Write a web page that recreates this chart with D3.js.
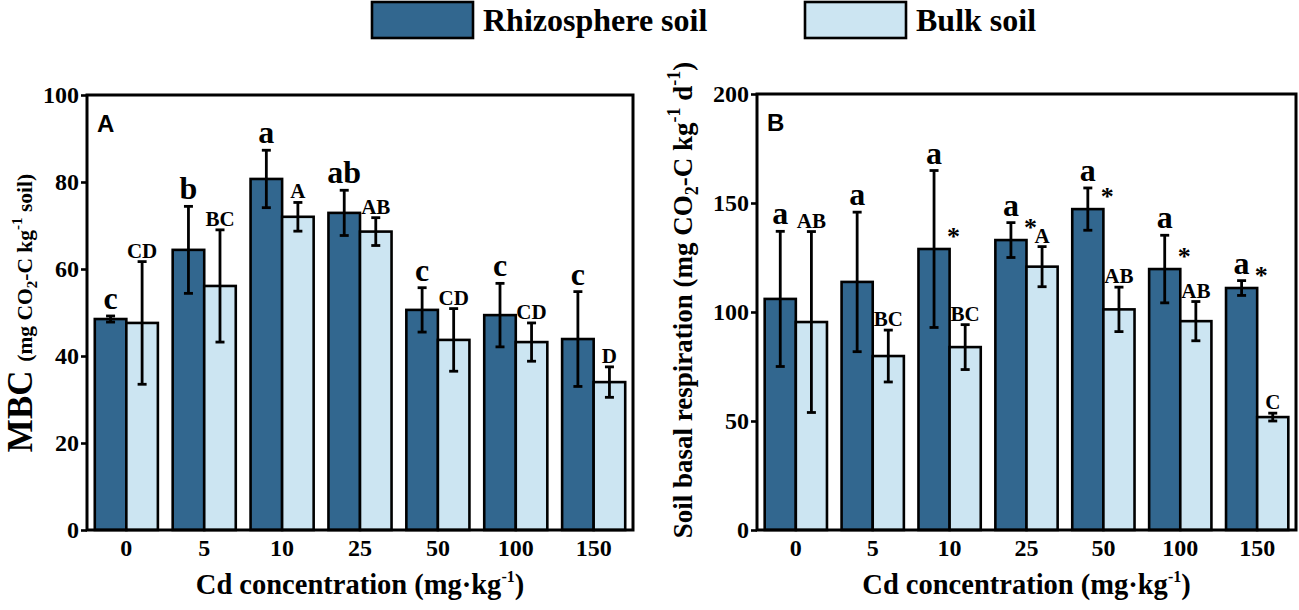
<!DOCTYPE html>
<html><head><meta charset="utf-8">
<script src="https://cdn.jsdelivr.net/npm/d3@7"></script>
<style>body{margin:0;background:#fff}svg{display:block}
svg text{font-family:"Liberation Serif","Times New Roman",Times,serif;font-weight:bold}
svg text.sans{font-family:"Liberation Sans",Arial,Helvetica,sans-serif}
</style>
</head><body>
<svg id="chart" width="1299" height="610"></svg>
<script>
const categories = ["0","5","10","25","50","100","150"];
const seriesNames = ["Rhizosphere soil","Bulk soil"];
const mbcRhizo = [48.5,64.4,80.7,72.9,50.6,49.4,43.9];
const mbcRhizoErr = [0.7,10,6.6,5.2,5.1,7.3,10.9];
const mbcBulk = [47.6,56.1,72,68.6,43.7,43.2,34];
const mbcBulkErr = [14.1,12.9,3.3,3.2,7.2,4.4,3.5];
const mbcRhizoLetters = ["c","b","a","ab","c","c","c"];
const mbcBulkLetters = ["CD","BC","A","AB","CD","CD","D"];
const mbcStars = [false,false,false,false,false,false,false];
const mbcTicks = [0,20,40,60,80,100];
const resRhizo = [106,113.8,128.9,133,147.2,119.7,111];
const resRhizoErr = [31,32,36,8,9.7,15.5,3.4];
const resBulk = [95.4,79.8,83.9,120.8,101.2,95.8,51.8];
const resBulkErr = [41.5,11.9,10.3,9.2,10.2,9,1.8];
const resRhizoLetters = ["a","a","a","a","a","a","a"];
const resBulkLetters = ["AB","BC","BC","A","AB","AB","C"];
const resStars = [false,false,true,true,true,true,true];
const resTicks = [0,50,100,150,200];

const DARK = "#32678f", LIGHT = "#cce5f2";
const svg = d3.select("#chart");

function panel(cfg){
  const {left,right,top,bottom,ymax,ticks,rh,rhE,bu,buE,rhL,buL,stars,tag} = cfg;
  const g = svg.append("g");
  const x0 = d3.scaleBand().domain(categories).range([left,right]).paddingInner(0.19).paddingOuter(0.1);
  const x1 = d3.scaleBand().domain([0,1]).range([0,x0.bandwidth()]);
  const y = d3.scaleLinear().domain([0,ymax]).range([bottom,top]);
  const rows = categories.map((c,i)=>({c,i,vals:[
    {s:0,v:rh[i],e:rhE[i],l:rhL[i]},{s:1,v:bu[i],e:buE[i],l:buL[i]}], star:stars[i]}));
  const grp = g.selectAll("g.grp").data(rows).join("g").attr("transform",d=>`translate(${x0(d.c)},0)`);
  grp.selectAll("rect").data(d=>d.vals).join("rect")
    .attr("x",d=>x1(d.s)).attr("width",x1.bandwidth())
    .attr("y",d=>y(d.v)).attr("height",d=>y(0)-y(d.v))
    .attr("fill",d=>d.s===0?DARK:LIGHT).attr("stroke","#000").attr("stroke-width",2.6);
  const eb = grp.selectAll("g.eb").data(d=>d.vals).join("g")
    .attr("stroke","#000").attr("stroke-width",2.8);
  eb.append("line").attr("x1",d=>x1(d.s)+x1.bandwidth()/2).attr("x2",d=>x1(d.s)+x1.bandwidth()/2)
    .attr("y1",d=>y(d.v+d.e)).attr("y2",d=>y(d.v-d.e));
  ["+","-"].forEach(sg=>{
    eb.append("line").attr("x1",d=>x1(d.s)+x1.bandwidth()/2-4.5).attr("x2",d=>x1(d.s)+x1.bandwidth()/2+4.5)
      .attr("y1",d=>y(sg==="+"?d.v+d.e:d.v-d.e)).attr("y2",d=>y(sg==="+"?d.v+d.e:d.v-d.e));
  });
  grp.selectAll("text.lab").data(d=>d.vals).join("text").attr("class","lab")
    .attr("x",d=>x1(d.s)+x1.bandwidth()/2)
    .attr("y",d=>y(d.v+d.e)-(d.s===0?7:4))
    .attr("text-anchor","middle")
    .style("font-size",d=>(d.s===0?32:21)+"px").text(d=>d.l);
  grp.filter(d=>d.star).append("text")
    .attr("x",x1(1)+4).attr("y",d=>y(d.vals[0].v)-4)
    .attr("text-anchor","middle").style("font-size","26px").text("*");
  const ya = g.append("g").attr("transform",`translate(${left},0)`)
    .call(d3.axisLeft(y).tickValues(ticks).tickSize(6).tickPadding(2));
  ya.select(".domain").remove();
  ya.selectAll("line").attr("stroke-width",2.6);
  ya.selectAll("text").style("font-size","24px").attr("fill","#000");
  const xa = g.append("g").attr("transform",`translate(0,${bottom})`)
    .call(d3.axisBottom(x0).tickSize(0).tickPadding(9));
  xa.select(".domain").remove();
  xa.selectAll("text").style("font-size","24px").attr("fill","#000");
  ya.attr("font-family",null); xa.attr("font-family",null);
  g.append("rect").attr("x",left).attr("y",top).attr("width",right-left).attr("height",bottom-top)
    .attr("fill","none").attr("stroke","#000").attr("stroke-width",3);
  g.append("text").attr("class","sans").attr("x",left+10).attr("y",top+37)
    .style("font-size","24px").text(tag);
  const xt = g.append("text").attr("x",(left+right)/2).attr("y",594).attr("text-anchor","middle")
    .style("font-size","28.5px");
  xt.append("tspan").text("Cd concentration (mg·kg");
  xt.append("tspan").style("font-size","16px").attr("dy",-12).text("-1");
  xt.append("tspan").attr("dy",12).text(")");
  return g;
}

panel({left:87,right:633,top:95,bottom:530,ymax:100,ticks:mbcTicks,rh:mbcRhizo,rhE:mbcRhizoErr,bu:mbcBulk,buE:mbcBulkErr,rhL:mbcRhizoLetters,buL:mbcBulkLetters,stars:mbcStars,tag:"A"});
panel({left:757,right:1296,top:94,bottom:530,ymax:200,ticks:resTicks,rh:resRhizo,rhE:resRhizoErr,bu:resBulk,buE:resBulkErr,rhL:resRhizoLetters,buL:resBulkLetters,stars:resStars,tag:"B"});

const ytA = svg.append("text").attr("transform","translate(32,313) rotate(-90)").attr("text-anchor","middle")
  .style("font-size","21.5px");
ytA.append("tspan").style("font-size","35px").text("MBC ");
ytA.append("tspan").text("(mg CO");
ytA.append("tspan").style("font-size","15px").attr("dy",5).text("2");
ytA.append("tspan").attr("dy",-5).text("-C kg");
ytA.append("tspan").style("font-size","15px").attr("dy",-10).text("-1");
ytA.append("tspan").attr("dy",10).text(" soil)");

const ytB = svg.append("text").attr("transform","translate(692,300) rotate(-90)").attr("text-anchor","middle")
  .style("font-size","27px");
ytB.append("tspan").text("Soil basal respiration (mg CO");
ytB.append("tspan").style("font-size","18px").attr("dy",6).text("2");
ytB.append("tspan").attr("dy",-6).text("-C kg");
ytB.append("tspan").style("font-size","18px").attr("dy",-12).text("-1");
ytB.append("tspan").attr("dy",12).text(" d");
ytB.append("tspan").style("font-size","18px").attr("dy",-12).text("-1");
ytB.append("tspan").attr("dy",12).text(")");

const leg = svg.append("g");
const legX = [372,805];
seriesNames.forEach((n,i)=>{
  leg.append("rect").attr("x",legX[i]).attr("y",2).attr("width",101).attr("height",36)
    .attr("fill",i===0?DARK:LIGHT).attr("stroke","#000").attr("stroke-width",2.6);
  leg.append("text").attr("x",legX[i]+111).attr("y",31).style("font-size","32px").text(n);
});
</script>
</body></html>
